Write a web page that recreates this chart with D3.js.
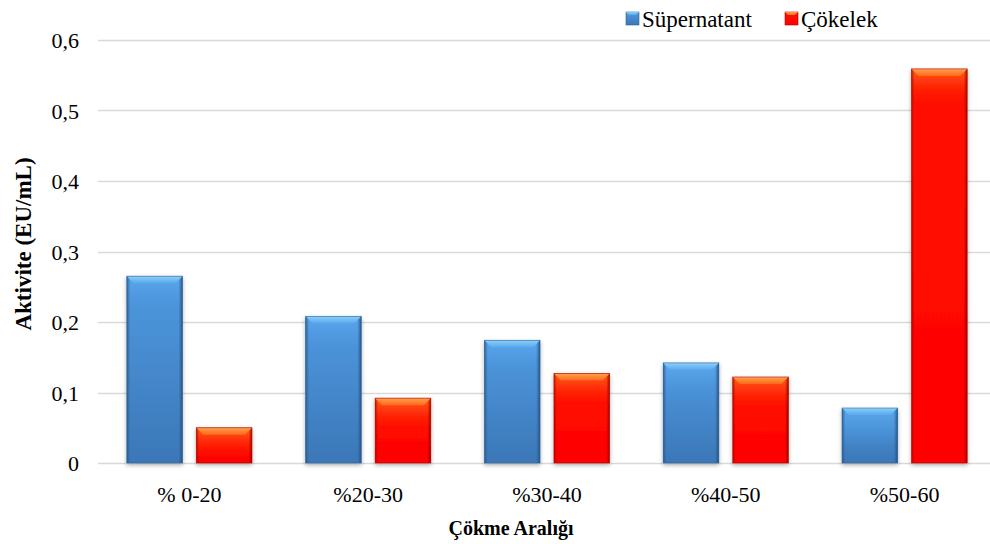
<!DOCTYPE html>
<meta charset="utf-8">
<style>
body { margin: 0; background: #fff; }
.grid line { stroke: #d9d9d9; stroke-width: 1.3; }
</style>
<body>
<script src="https://cdn.jsdelivr.net/npm/d3@7"></script>
<script>
var categories = ['% 0-20', '%20-30', '%30-40', '%40-50', '%50-60'];
var seriesNames = ['Süpernatant', 'Çökelek'];
var supernatant = [0.265, 0.208, 0.174, 0.142, 0.078];
var cokelek = [0.050, 0.092, 0.127, 0.122, 0.559];
var yTicks = [0, 0.1, 0.2, 0.3, 0.4, 0.5, 0.6];
var yTickLabels = ['0', '0,1', '0,2', '0,3', '0,4', '0,5', '0,6'];

var width = 990, height = 544;
var plotLeft = 100, plotRight = 994, plotTop = 40, plotBottom = 463;
var serif = 'Liberation Serif';

var svg = d3.select('body').append('svg')
    .attr('width', width)
    .attr('height', height);

var defs = svg.append('defs');

function linGrad(id, horizontal, stops) {
    var g = defs.append('linearGradient').attr('id', id)
        .attr('x1', 0).attr('y1', 0)
        .attr('x2', horizontal ? 1 : 0).attr('y2', horizontal ? 0 : 1);
    stops.forEach(function(s) {
        g.append('stop').attr('offset', s[0]).attr('stop-color', s[1]).attr('stop-opacity', s[2] == null ? 1 : s[2]);
    });
}

linGrad('blueBody', false, [[0, '#4f9ae1'], [1, '#3b77b7']]);
linGrad('redBody', false, [[0, '#ff1200'], [1, '#ff0000']]);
linGrad('blueTop', false, [[0, '#8ccff9'], [1, '#5aa9ec']]);
linGrad('redTop', false, [[0, '#ffa050'], [1, '#ff6a1c']]);
linGrad('redFade', false, [[0, '#ff6414', 1], [1, '#ff0000', 0]]);
linGrad('blueFade', false, [[0, '#5aa8ee', 1], [1, '#4a90d8', 0]]);
linGrad('blueSides', true, [[0, '#2a5b8e', 0.9], [0.06, '#2a5b8e', 0], [0.93, '#2a5b8e', 0], [1, '#24507e', 0.95]]);
linGrad('redSides', true, [[0, '#a00000', 0.7], [0.05, '#a00000', 0], [0.94, '#a00000', 0], [1, '#900000', 0.85]]);

var shadow = defs.append('filter').attr('id', 'shadow')
    .attr('x', '-20%').attr('y', '-10%').attr('width', '140%').attr('height', '125%');
shadow.append('feDropShadow').attr('dx', 0).attr('dy', 2).attr('stdDeviation', 2)
    .attr('flood-color', '#000').attr('flood-opacity', 0.3);

var x0 = d3.scaleBand().domain(categories).range([plotLeft, plotRight]).paddingInner(0.3).paddingOuter(0.15);
var x1 = d3.scaleBand().domain(seriesNames).range([0, x0.bandwidth()]).paddingInner(0.2);
var y = d3.scaleLinear().domain([0, 0.6]).range([plotBottom, plotTop]);

// grid lines
var grid = svg.append('g').attr('class', 'grid');
grid.selectAll('line').data(yTicks).enter().append('line')
    .attr('x1', plotLeft - 2).attr('x2', width)
    .attr('y1', function(d) { return Math.round(y(d)) + 0.5; })
    .attr('y2', function(d) { return Math.round(y(d)) + 0.5; });

// y tick labels
svg.selectAll('.ylab').data(yTicks).enter().append('text')
    .attr('font-family', serif).attr('font-size', 22)
    .attr('x', 79)
    .attr('y', function(d) { return y(d) + 8; })
    .attr('text-anchor', 'end')
    .text(function(d, i) { return yTickLabels[i]; });

// x tick labels
svg.selectAll('.xlab').data(categories).enter().append('text')
    .attr('font-family', serif).attr('font-size', 22)
    .attr('x', function(d) { return x0(d) + x0.bandwidth() / 2; })
    .attr('y', 502)
    .attr('text-anchor', 'middle')
    .text(function(d) { return d; });

// axis titles
svg.append('text')
    .attr('font-family', serif).attr('font-size', 20).attr('font-weight', 'bold')
    .attr('x', 511).attr('y', 535).attr('text-anchor', 'middle')
    .text('Çökme Aralığı');
svg.append('text')
    .attr('font-family', serif).attr('font-size', 23).attr('font-weight', 'bold')
    .attr('transform', 'translate(31,244) rotate(-90)')
    .attr('text-anchor', 'middle')
    .text('Aktivite (EU/mL)');

// bars
var barData = [];
categories.forEach(function(c, i) {
    barData.push({cat: c, series: seriesNames[0], value: supernatant[i], kind: 'blue'});
    barData.push({cat: c, series: seriesNames[1], value: cokelek[i], kind: 'red'});
});

var bars = svg.append('g').selectAll('g.bar').data(barData).enter().append('g')
    .attr('class', 'bar')
    .attr('filter', 'url(#shadow)');

function bx(d) { return x0(d.cat) + x1(d.series); }
var bw = x1.bandwidth();
var bevel = 7;

bars.append('rect')
    .attr('x', bx)
    .attr('y', function(d) { return y(d.value); })
    .attr('width', bw)
    .attr('height', function(d) { return plotBottom - y(d.value); })
    .attr('fill', function(d) { return 'url(#' + d.kind + 'Body)'; });

bars.append('rect')
    .attr('x', bx)
    .attr('y', function(d) { return y(d.value); })
    .attr('width', bw)
    .attr('height', function(d) { return Math.min(40, plotBottom - y(d.value)); })
    .attr('fill', function(d) { return 'url(#' + d.kind + 'Fade)'; });

bars.append('rect')
    .attr('x', bx)
    .attr('y', function(d) { return y(d.value); })
    .attr('width', bw)
    .attr('height', function(d) { return plotBottom - y(d.value); })
    .attr('fill', function(d) { return 'url(#' + d.kind + 'Sides)'; });

bars.append('path')
    .attr('d', function(d) {
        var xl = bx(d), yt = y(d.value);
        return 'M' + xl + ',' + yt + 'L' + (xl + bw) + ',' + yt +
            'L' + (xl + bw - bevel) + ',' + (yt + bevel) + 'L' + (xl + bevel) + ',' + (yt + bevel) + 'Z';
    })
    .attr('fill', function(d) { return 'url(#' + d.kind + 'Top)'; });

bars.append('rect')
    .attr('x', bx)
    .attr('y', function(d) { return y(d.value); })
    .attr('width', bw)
    .attr('height', function(d) { return plotBottom - y(d.value); })
    .attr('fill', 'none')
    .attr('stroke', function(d) { return d.kind === 'blue' ? '#2f6296' : '#a81000'; })
    .attr('stroke-width', 0.8)
    .attr('stroke-opacity', 0.7);

// legend
var legendItems = [
    {name: seriesNames[0], kind: 'blue', x: 626},
    {name: seriesNames[1], kind: 'red', x: 785}
];
var legend = svg.append('g');
var li = legend.selectAll('g').data(legendItems).enter().append('g')
    .attr('transform', function(d) { return 'translate(' + d.x + ',0)'; });
li.append('rect').attr('x', 0).attr('y', 12).attr('width', 13).attr('height', 13)
    .attr('fill', function(d) { return 'url(#' + d.kind + 'Body)'; })
    .attr('stroke', function(d) { return d.kind === 'blue' ? '#2f6296' : '#a81000'; })
    .attr('stroke-width', 0.6);
li.append('path')
    .attr('d', 'M0,12L13,12L10,15L3,15Z')
    .attr('fill', function(d) { return 'url(#' + d.kind + 'Top)'; });
li.append('text')
    .attr('font-family', serif).attr('font-size', 23)
    .attr('x', 16).attr('y', 27)
    .text(function(d) { return d.name; });
</script>
